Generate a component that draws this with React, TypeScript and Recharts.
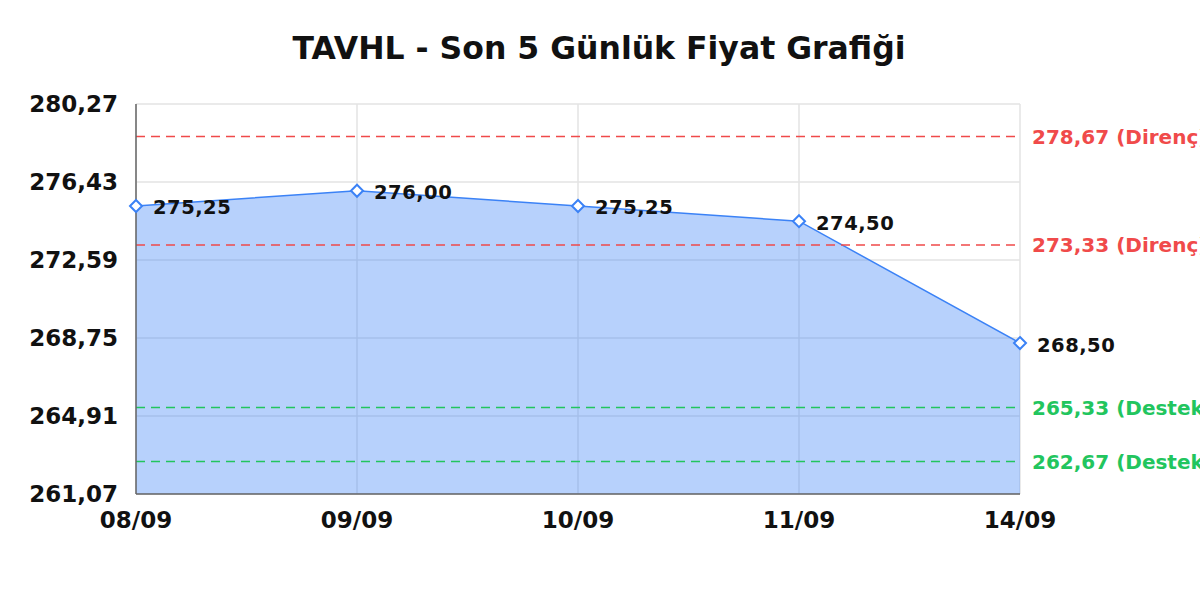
import { AreaChart, Area, XAxis, YAxis, CartesianGrid, ReferenceLine, LabelList } from "recharts";

const dates = ["08/09", "09/09", "10/09", "11/09", "14/09"];
const prices = [275.25, 276.0, 275.25, 274.5, 268.5];
const yTicks = [261.07, 264.91, 268.75, 272.59, 276.43, 280.27];
const resistance = [278.67, 273.33];
const support = [265.33, 262.67];

const data = dates.map((d, i) => ({ date: d, price: prices[i] }));

const FONT = "'DejaVu Sans', Verdana, sans-serif";
const fmt = (v: number) => v.toFixed(2).replace(".", ",");

const Diamond = (props: any) => {
  const { cx, cy, index } = props;
  if (cx == null || cy == null) return null;
  const r = 6;
  return (
    <path
      key={`dot-${index}`}
      d={`M${cx},${cy - r} L${cx + r},${cy} L${cx},${cy + r} L${cx - r},${cy} Z`}
      fill="#ffffff"
      stroke="#3b82f6"
      strokeWidth={2}
    />
  );
};

const PriceLabel = (props: any) => {
  const { x, y, value } = props;
  return (
    <text
      x={x + 17}
      y={y + 3}
      dominantBaseline="middle"
      fontFamily={FONT}
      fontWeight="bold"
      fontSize={19.5}
      letterSpacing={0.5}
      fill="#111"
    >
      {fmt(value)}
    </text>
  );
};

export default function App() {
  return (
    <div style={{ position: "absolute", left: 0, top: 0, width: 1200, height: 600, background: "#fff" }}>
      <div
        style={{
          position: "absolute",
          left: 0,
          top: 29,
          width: 1198,
          textAlign: "center",
          fontFamily: FONT,
          fontWeight: "bold",
          fontSize: 31.5,
          lineHeight: "38px",
          color: "#111",
        }}
      >
        TAVHL - Son 5 Günlük Fiyat Grafiği
      </div>
      <AreaChart width={1200} height={600} data={data} margin={{ top: 104, right: 180, bottom: 66, left: 16 }}>
        <CartesianGrid stroke="#e3e3e3" strokeWidth={1.5} />
        <XAxis
          dataKey="date"
          height={40}
          tickLine={false}
          axisLine={{ stroke: "#666", strokeWidth: 1.5 }}
          tickMargin={12}
          tick={{ fontFamily: FONT, fontWeight: "bold", fontSize: 23, fill: "#111" }}
          interval={0}
        />
        <YAxis
          width={120}
          domain={[yTicks[0], yTicks[yTicks.length - 1]]}
          ticks={yTicks}
          tickFormatter={fmt}
          tickLine={false}
          axisLine={{ stroke: "#666", strokeWidth: 1.5 }}
          tickMargin={12}
          tick={{ fontFamily: FONT, fontWeight: "bold", fontSize: 23, fill: "#111" }}
          interval={0}
        />
        {resistance.map((v) => (
          <ReferenceLine
            key={`r-${v}`}
            y={v}
            stroke="#f04a4a"
            strokeWidth={1.5}
            strokeDasharray="9 6"
            label={{
              value: `${fmt(v)} (Direnç)`,
              position: "right",
              offset: 12,
              fill: "#f04a4a",
              fontFamily: FONT,
              fontWeight: "bold",
              fontSize: 20,
            }}
          />
        ))}
        {support.map((v) => (
          <ReferenceLine
            key={`s-${v}`}
            y={v}
            stroke="#22c55e"
            strokeWidth={1.5}
            strokeDasharray="9 6"
            label={{
              value: `${fmt(v)} (Destek)`,
              position: "right",
              offset: 12,
              fill: "#22c55e",
              fontFamily: FONT,
              fontWeight: "bold",
              fontSize: 20,
            }}
          />
        ))}
        <Area
          type="linear"
          dataKey="price"
          stroke="#3b82f6"
          strokeWidth={1.5}
          fill="#3b82f6"
          fillOpacity={0.37}
          dot={Diamond}
          activeDot={false}
          isAnimationActive={false}
        >
          <LabelList dataKey="price" content={PriceLabel} />
        </Area>
      </AreaChart>
    </div>
  );
}
